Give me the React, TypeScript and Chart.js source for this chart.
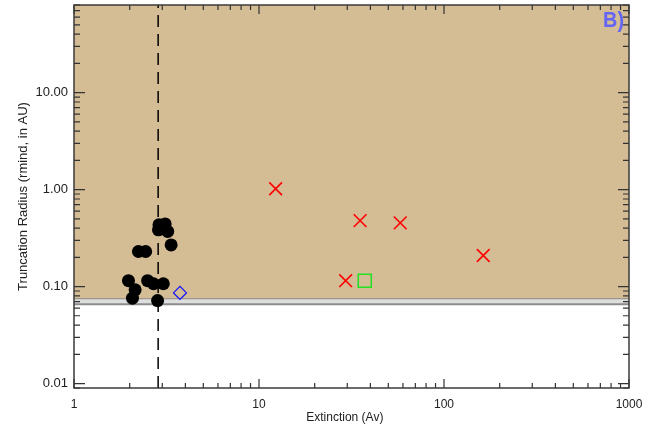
import React, { useEffect, useRef } from "react";
import { Chart, registerables } from "chart.js";

Chart.register(...registerables);

// ---- data ----
const circleAv = [2.88, 3.11, 3.21, 2.86, 3.35, 2.23, 2.44, 1.97, 2.5, 2.69, 3.04, 2.14, 2.07, 2.83];
const circleR = [0.433, 0.443, 0.37, 0.385, 0.269, 0.23, 0.23, 0.115, 0.115, 0.107, 0.107, 0.0925, 0.0759, 0.0717];
const crossAv = [12.3, 35.2, 58, 163, 29.4];
const crossR = [1.02, 0.479, 0.454, 0.209, 0.115];
const squareAv = [37.3];
const squareR = [0.115];
const diamondAv = [3.74];
const diamondR = [0.086];
const dashedAv = [2.85];
const upperLimit = [0.0738];
const lowerLimit = [0.0658];
const xRange = [1, 1000];
const yRange = [0.009, 80];
const xTickValues = [1, 10, 100, 1000];
const yTickValues = [0.01, 0.1, 1, 10];
const xTitle = "Extinction (Av)";
const yTitle = "Truncation Radius (rmind, in AU)";
const panelLabel = "B)";

const pts = (xs: number[], ys: number[]) => xs.map((x, i) => ({ x, y: ys[i] }));

function logTickValues(min: number, max: number) {
  const out: { v: number; major: boolean }[] = [];
  for (let d = -4; d <= 4; d++) {
    for (let k = 1; k <= 9; k++) {
      const v = parseFloat((k * Math.pow(10, d)).toPrecision(6));
      if (v >= min * 0.9999 && v <= max * 1.0001) out.push({ v, major: k === 1 });
    }
  }
  return out;
}

const idlAxes = {
  id: "idlAxes",
  afterDatasetsDraw(chart: any) {
    const { ctx, chartArea: a, scales } = chart;
    const x = scales.x;
    const y = scales.y;
    ctx.save();
    ctx.strokeStyle = "#333";
    ctx.lineWidth = 1.2;
    ctx.beginPath();
    for (const t of logTickValues(xRange[0], xRange[1])) {
      const px = x.getPixelForValue(t.v);
      const len = t.major ? 9 : 5;
      ctx.moveTo(px, a.bottom);
      ctx.lineTo(px, a.bottom - len);
      ctx.moveTo(px, a.top);
      ctx.lineTo(px, a.top + len);
    }
    for (const t of logTickValues(yRange[0], yRange[1])) {
      const py = y.getPixelForValue(t.v);
      const len = t.major ? 11 : 6;
      ctx.moveTo(a.left, py);
      ctx.lineTo(a.left + len, py);
      ctx.moveTo(a.right, py);
      ctx.lineTo(a.right - len, py);
    }
    ctx.stroke();
    ctx.lineWidth = 1.5;
    ctx.strokeStyle = "#3a3a3a";
    ctx.strokeRect(a.left, a.top, a.right - a.left, a.bottom - a.top);
    ctx.restore();
  },
  afterDraw(chart: any) {
    const { ctx, chartArea: a } = chart;
    ctx.save();
    ctx.translate(a.right - 5, a.top + 22);
    ctx.scale(0.9, 1);
    ctx.font = "bold 22px 'Liberation Sans', Arial, sans-serif";
    ctx.fillStyle = "rgb(100,100,245)";
    ctx.textAlign = "right";
    ctx.textBaseline = "alphabetic";
    ctx.fillText(panelLabel, 0, 0);
    ctx.restore();
  },
};

export default function App() {
  const ref = useRef<HTMLCanvasElement | null>(null);
  useEffect(() => {
    if (!ref.current) return;
    Chart.defaults.font.family = "'Liberation Sans', Arial, sans-serif";
    const chart = new Chart(ref.current, {
      type: "scatter",
      data: {
        datasets: [
          {
            label: "circles",
            data: pts(circleAv, circleR),
            pointStyle: "circle",
            pointRadius: 6.5,
            backgroundColor: "#000",
            borderColor: "#000",
            borderWidth: 0,
            order: 0,
          },
          {
            label: "crosses",
            data: pts(crossAv, crossR),
            pointStyle: "crossRot",
            pointRadius: 9,
            borderColor: "#ff0000",
            borderWidth: 1.6,
            order: 1,
          },
          {
            label: "square",
            data: pts(squareAv, squareR),
            pointStyle: "rect",
            pointRadius: 9.2,
            backgroundColor: "rgba(0,0,0,0)",
            borderColor: "#22e022",
            borderWidth: 1.5,
            order: 2,
          },
          {
            label: "diamond",
            data: pts(diamondAv, diamondR),
            pointStyle: "rectRot",
            pointRadius: 6.5,
            backgroundColor: "rgba(0,0,0,0)",
            borderColor: "#1010ff",
            borderWidth: 1.2,
            order: 3,
          },
          {
            label: "dashed",
            data: [
              { x: dashedAv[0], y: yRange[0] },
              { x: dashedAv[0], y: yRange[1] },
            ],
            showLine: true,
            pointRadius: 0,
            borderColor: "#000",
            borderWidth: 1.5,
            borderDash: [12, 7],
            order: 5,
          },
          {
            label: "lower",
            data: [
              { x: xRange[0], y: lowerLimit[0] },
              { x: xRange[1], y: lowerLimit[0] },
            ],
            showLine: true,
            pointRadius: 0,
            borderColor: "#8c8c8c",
            borderWidth: 2,
            fill: { value: upperLimit[0] },
            backgroundColor: "#dedede",
            order: 9,
          },
          {
            label: "upper",
            data: [
              { x: xRange[0], y: upperLimit[0] },
              { x: xRange[1], y: upperLimit[0] },
            ],
            showLine: true,
            pointRadius: 0,
            borderColor: "#8c8c8c",
            borderWidth: 2,
            fill: "end",
            backgroundColor: "rgb(212,188,148)",
            order: 10,
          },
        ],
      } as any,
      options: {
        animation: false,
        responsive: false,
        layout: { autoPadding: false, padding: { top: 5, right: 41, left: 0, bottom: 0 } },
        plugins: {
          legend: { display: false },
          tooltip: { enabled: false },
        },
        scales: {
          x: {
            type: "logarithmic",
            min: xRange[0],
            max: xRange[1],
            grid: { display: false, drawTicks: false },
            border: { display: false },
            afterBuildTicks: (s: any) => {
              s.ticks = xTickValues.map((v) => ({ value: v }));
            },
            afterFit: (s: any) => {
              s.height = 45;
              s.paddingLeft = 0;
              s.paddingRight = 0;
            },
            ticks: {
              autoSkip: false,
              maxRotation: 0,
              padding: 9,
              color: "#222",
              font: { size: 12 },
              callback: (v: any) => String(v),
            },
            title: {
              display: true,
              text: xTitle + "    ",
              color: "#222",
              font: { size: 12 },
              padding: { top: 0, bottom: 8 },
            },
          },
          y: {
            type: "logarithmic",
            min: yRange[0],
            max: yRange[1],
            grid: { display: false, drawTicks: false },
            border: { display: false },
            afterBuildTicks: (s: any) => {
              s.ticks = yTickValues.map((v) => ({ value: v }));
            },
            afterFit: (s: any) => {
              s.width = 74;
              s.paddingTop = 0;
              s.paddingBottom = 0;
            },
            ticks: {
              autoSkip: false,
              padding: 6,
              color: "#222",
              font: { size: 13 },
              callback: (v: any) => Number(v).toFixed(2),
            },
            title: {
              display: true,
              text: yTitle,
              color: "#222",
              font: { size: 13 },
              padding: { top: 16, bottom: 0 },
            },
          },
        },
      } as any,
      plugins: [idlAxes],
    });
    return () => chart.destroy();
  }, []);
  return (
    <div style={{ position: "absolute", left: 0, top: 0, width: 670, height: 433, background: "#fff" }}>
      <canvas ref={ref} width={670} height={433} style={{ display: "block" }} />
    </div>
  );
}
